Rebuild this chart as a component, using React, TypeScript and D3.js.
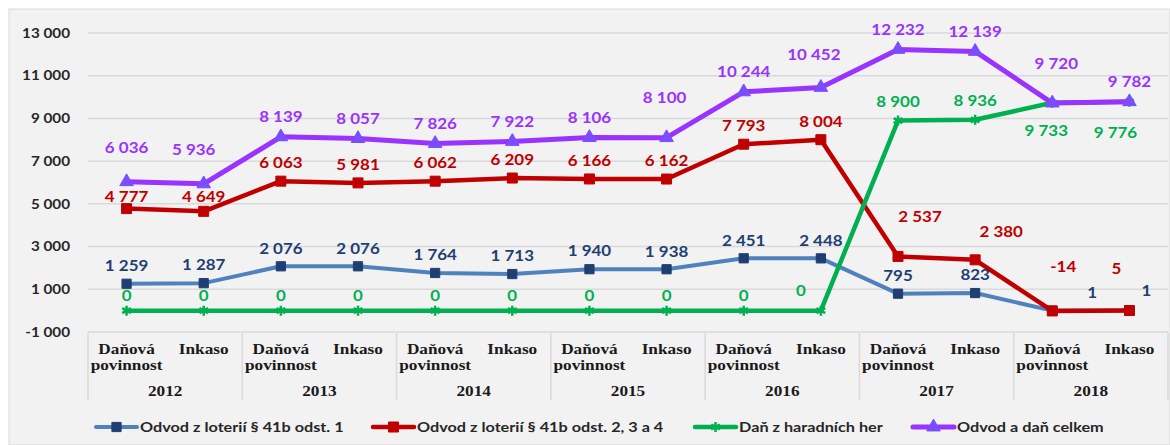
import React from 'react';
import {scaleBand, scaleLinear, line, symbol, symbolSquare, symbolTriangle, symbolAsterisk, formatLocale} from 'd3';

const years = ['2012', '2013', '2014', '2015', '2016', '2017', '2018'];
const periods = ['Daňová povinnost', 'Inkaso'];
const yTicks = [-1000, 1000, 3000, 5000, 7000, 9000, 11000, 13000];

const lotteryOdst1 = [1259, 1287, 2076, 2076, 1764, 1713, 1940, 1938, 2451, 2448, 795, 823, 1, 1];
const lotteryOdst234 = [4777, 4649, 6063, 5981, 6062, 6209, 6166, 6162, 7793, 8004, 2537, 2380, -14, 5];
const gamblingTax = [0, 0, 0, 0, 0, 0, 0, 0, 0, 0, 8900, 8936, 9733, 9776];
const totalLevy = [6036, 5936, 8139, 8057, 7826, 7922, 8106, 8100, 10244, 10452, 12232, 12139, 9720, 9782];

// label nudges (dx, dy from point) where Excel labels were moved by hand
const nudges: Record<string, Record<number, [number, number]>> = {
    blue: {12: [40, -18], 13: [17, -20]},
    red: {0: [0, -12], 1: [0, -15], 10: [22, -40], 11: [26, -28], 12: [11, -44], 13: [-13, -42]},
    green: {9: [-20, -20], 10: [0, -19], 11: [0, -19], 12: [-6, 28], 13: [-14, 31]},
    purple: {0: [0, -34], 1: [-10, -34], 7: [-2, -40], 9: [-7, -33], 12: [4, -39]},
};

const series = [
    {key: 'blue', name: 'Odvod z loterií § 41b odst. 1', values: lotteryOdst1, color: '#4f81bd', marker: '#1f3f73', label: '#1f3f73', shape: symbolSquare, size: 85, dy: -18, width: 4},
    {key: 'red', name: 'Odvod z loterií § 41b odst. 2, 3 a 4', values: lotteryOdst234, color: '#c00000', marker: '#c00000', label: '#c00000', shape: symbolSquare, size: 100, dy: -18, width: 4.5},
    {key: 'green', name: 'Daň z haradních her', values: gamblingTax, color: '#00b050', marker: '#00b050', label: '#00b050', shape: symbolAsterisk, size: 70, dy: -15, width: 4.5},
    {key: 'purple', name: 'Odvod a daň celkem', values: totalLevy, color: '#9933ff', marker: '#7a4dff', label: '#9933ff', shape: symbolTriangle, size: 80, dy: -20, width: 5},
];

const legendX = [96, 373, 695, 913];

const locale = formatLocale({decimal: ',', thousands: ' ', grouping: [3], currency: ['', ' Kč'], minus: '-'});
const fmt = locale.format(',d');

const App = (): JSX.Element => {
    const left = 88, right = 1168;
    const idx = lotteryOdst1.map((_, i) => i);
    const x = scaleBand<number>().domain(idx).range([left, right]);
    const y = scaleLinear().domain([-1000, 13000]).range([332, 33]);
    const cx = (i: number) => (x(i) as number) + x.bandwidth() / 2;
    const yearW = x.bandwidth() * 2;

    const numFont = 'Lato, "Open Sans", sans-serif';
    const catFont = '"Liberation Serif", "Times New Roman", serif';
    const sx = 1.13; // the picture is a bit wider than the fonts

    return (
        <svg width={1170} height={445} style={{position: 'absolute', left: 0, top: 0}}>
            <rect x={0} y={0} width={1170} height={445} fill="#ffffff" />
            <rect x={9} y={9} width={1161} height={436} fill="#f2f2f2" stroke="#d9d9d9" strokeWidth={1} />

            {yTicks.map(t => (
                <g key={t}>
                    <line x1={left} x2={right} y1={y(t)} y2={y(t)} stroke="#d9d9d9" strokeWidth={1.5} />
                    <text transform={`translate(70,${y(t)}) scale(${sx},1)`} dy="0.35em" textAnchor="end"
                          fontFamily={numFont} fontWeight={700} fontSize={13.5} fill="#262626">{fmt(t)}</text>
                </g>
            ))}

            {/* category axis */}
            {years.map((yr, k) => {
                const x0 = left + k * yearW;
                return (
                    <g key={yr}>
                        <line x1={x0} x2={x0} y1={333} y2={400} stroke="#d9d9d9" strokeWidth={1.5} />
                        <text transform={`translate(${x0 + yearW / 2},396) scale(1.15,1)`} textAnchor="middle"
                              fontFamily={catFont} fontWeight={700} fontSize={15} fill="#1a1a1a">{yr}</text>
                        {periods.map((p, j) => {
                            const words = p.split(' ');
                            const px = x0 + x.bandwidth() * (j + 0.5);
                            return words.map((w, l) => (
                                <text key={p + w} transform={`translate(${px},${354 + l * 16}) scale(1.15,1)`}
                                      textAnchor="middle" fontFamily={catFont} fontWeight={700} fontSize={15}
                                      fill="#1a1a1a">{w}</text>
                            ));
                        })}
                    </g>
                );
            })}
            <line x1={right} x2={right} y1={333} y2={400} stroke="#d9d9d9" strokeWidth={1.5} />

            {series.map(s => {
                const path = line<number>().x((_, i) => cx(i)).y(v => y(v))(s.values) || '';
                const sym = symbol().type(s.shape).size(s.size)() || '';
                const isStar = s.shape === symbolAsterisk;
                return (
                    <g key={s.key}>
                        <path d={path} fill="none" stroke={s.color} strokeWidth={s.width} strokeLinejoin="round" />
                        {s.values.map((v, i) => (
                            <path key={i} d={sym} transform={`translate(${cx(i)},${y(v)})`}
                                  fill={isStar ? 'none' : s.marker} stroke={s.marker}
                                  strokeWidth={isStar ? 2.5 : 1} />
                        ))}
                    </g>
                );
            })}

            {series.map(s => (
                <g key={s.key + '-labels'}>
                    {s.values.map((v, i) => {
                        const n = nudges[s.key][i];
                        const dx = n ? n[0] : 0;
                        const dy = n ? n[1] : s.dy;
                        return (
                            <text key={i} transform={`translate(${cx(i) + dx},${y(v) + dy}) scale(${sx},1)`}
                                  dy="0.35em" textAnchor="middle" fontFamily={numFont} fontWeight={700}
                                  fontSize={15} fill={s.label}>{fmt(v)}</text>
                        );
                    })}
                </g>
            ))}

            {/* legend */}
            {series.map((s, k) => {
                const lx = legendX[k];
                const sym = symbol().type(s.shape).size(s.size)() || '';
                const isStar = s.shape === symbolAsterisk;
                return (
                    <g key={s.key + '-legend'} transform={`translate(${lx},427)`}>
                        <line x1={0} x2={41} y1={0} y2={0} stroke={s.color} strokeWidth={s.width} strokeLinecap="round" />
                        <path d={sym} transform="translate(20.5,0)" fill={isStar ? 'none' : s.marker} stroke={s.marker}
                              strokeWidth={isStar ? 2.5 : 1} />
                        <text transform={`translate(44,0) scale(1.16,1)`} dy="0.35em" fontFamily={numFont}
                              fontWeight={700} fontSize={14} fill="#262626">{s.name}</text>
                    </g>
                );
            })}
        </svg>
    );
};

export default App;
